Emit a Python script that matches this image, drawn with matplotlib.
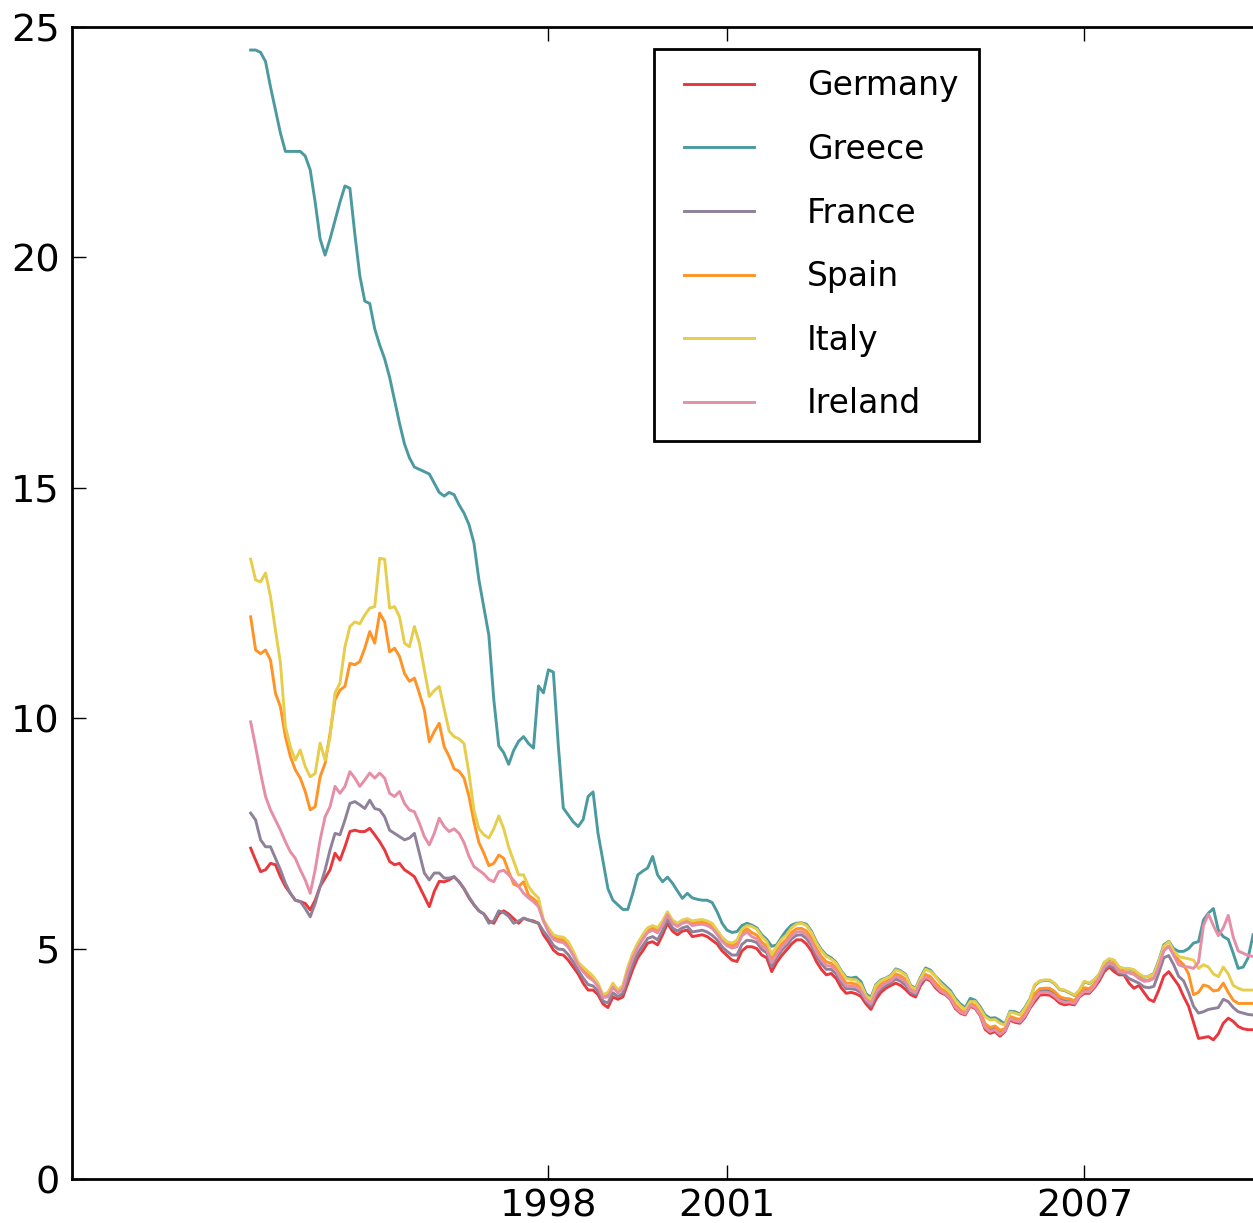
import matplotlib
matplotlib.use("Agg")
import matplotlib.pyplot as plt
import numpy as np

# monthly 10-year government bond yields (%), first month = Jan 1993
START_YEAR = 1993

germany = [
    7.18, 6.92, 6.67, 6.71, 6.85, 6.82, 6.56, 6.35, 6.20, 6.05,
    6.02, 5.98, 5.84, 6.05, 6.35, 6.53, 6.71, 7.07, 6.92, 7.21,
    7.54, 7.57, 7.54, 7.54, 7.61, 7.47, 7.32, 7.14, 6.89, 6.82,
    6.85, 6.71, 6.64, 6.56, 6.35, 6.13, 5.91, 6.24, 6.46, 6.45,
    6.49, 6.56, 6.45, 6.30, 6.10, 5.95, 5.82, 5.75, 5.60, 5.55,
    5.75, 5.82, 5.75, 5.65, 5.55, 5.66, 5.62, 5.60, 5.55, 5.30,
    5.15, 4.97, 4.88, 4.86, 4.75, 4.60, 4.45, 4.25, 4.10, 4.10,
    4.00, 3.80, 3.72, 3.95, 3.90, 3.95, 4.25, 4.55, 4.80, 4.95,
    5.12, 5.15, 5.08, 5.30, 5.55, 5.38, 5.30, 5.38, 5.40, 5.26,
    5.28, 5.30, 5.26, 5.18, 5.10, 4.95, 4.85, 4.75, 4.72, 4.95,
    5.04, 5.04, 5.00, 4.86, 4.80, 4.50, 4.70, 4.85, 4.97, 5.10,
    5.19, 5.19, 5.10, 4.95, 4.72, 4.55, 4.43, 4.46, 4.35, 4.15,
    4.03, 4.05, 4.02, 3.96, 3.80, 3.68, 3.90, 4.05, 4.14, 4.20,
    4.25, 4.20, 4.11, 4.00, 3.95, 4.20, 4.35, 4.30, 4.15, 4.05,
    4.00, 3.90, 3.70, 3.60, 3.56, 3.75, 3.70, 3.55, 3.25, 3.16,
    3.20, 3.10, 3.20, 3.45, 3.40, 3.38, 3.50, 3.70, 3.85, 3.99,
    4.00, 3.99, 3.92, 3.82, 3.78, 3.80, 3.78, 3.95, 4.03, 4.03,
    4.15, 4.30, 4.50, 4.60, 4.50, 4.43, 4.43, 4.25, 4.14, 4.20,
    4.05, 3.90, 3.85, 4.10, 4.40, 4.50, 4.35, 4.20, 3.96, 3.75,
    3.40, 3.05, 3.07, 3.09, 3.02, 3.15, 3.38, 3.49, 3.42, 3.31,
    3.26, 3.24, 3.24,
]

greece = [
    24.50, 24.50, 24.45, 24.25, 23.70, 23.20, 22.70, 22.30, 22.30, 22.30,
    22.30, 22.20, 21.90, 21.20, 20.40, 20.05, 20.40, 20.80, 21.20, 21.55,
    21.50, 20.50, 19.60, 19.05, 19.00, 18.45, 18.10, 17.80, 17.40, 16.90,
    16.40, 15.95, 15.65, 15.45, 15.40, 15.35, 15.30, 15.10, 14.90, 14.82,
    14.90, 14.85, 14.63, 14.45, 14.20, 13.80, 13.00, 12.40, 11.80, 10.40,
    9.40, 9.25, 9.00, 9.30, 9.50, 9.60, 9.45, 9.35, 10.70, 10.55,
    11.05, 11.00, 9.40, 8.05, 7.90, 7.75, 7.65, 7.80, 8.30, 8.40,
    7.50, 6.90, 6.30, 6.05, 5.95, 5.85, 5.85, 6.20, 6.60, 6.68,
    6.75, 7.00, 6.60, 6.45, 6.55, 6.42, 6.25, 6.09, 6.20, 6.10,
    6.07, 6.05, 6.05, 6.00, 5.80, 5.55, 5.40, 5.35, 5.37, 5.50,
    5.55, 5.51, 5.45, 5.30, 5.20, 5.05, 5.08, 5.25, 5.40, 5.51,
    5.55, 5.56, 5.53, 5.38, 5.15, 4.98, 4.86, 4.80, 4.70, 4.52,
    4.38, 4.36, 4.38, 4.28, 4.02, 3.94, 4.22, 4.32, 4.36, 4.42,
    4.56, 4.52, 4.44, 4.20, 4.14, 4.38, 4.58, 4.53, 4.40, 4.29,
    4.19, 4.09, 3.92, 3.80, 3.72, 3.92, 3.88, 3.74, 3.56, 3.49,
    3.50, 3.44, 3.36, 3.64, 3.63, 3.58, 3.72, 3.90, 4.20, 4.29,
    4.31, 4.31, 4.24, 4.11, 4.09, 4.04, 3.98, 4.09, 4.28, 4.24,
    4.32, 4.44, 4.69, 4.77, 4.74, 4.59, 4.56, 4.56, 4.53, 4.44,
    4.38, 4.40, 4.46, 4.74, 5.08, 5.16, 5.00, 4.94, 4.94, 5.00,
    5.12, 5.15, 5.62, 5.77, 5.87, 5.40, 5.26, 5.20, 4.90, 4.57,
    4.60, 4.80, 5.30,
]

france = [
    7.94, 7.79, 7.36, 7.21, 7.21, 6.96, 6.71, 6.42, 6.20, 6.05,
    6.02, 5.87, 5.69, 5.98, 6.35, 6.71, 7.14, 7.50, 7.47, 7.79,
    8.15, 8.19, 8.12, 8.04, 8.22, 8.04, 8.01, 7.86, 7.57, 7.50,
    7.43, 7.36, 7.40, 7.50, 7.07, 6.64, 6.49, 6.64, 6.64, 6.53,
    6.53, 6.56, 6.45, 6.30, 6.12, 5.95, 5.82, 5.75, 5.55, 5.60,
    5.82, 5.78, 5.70, 5.55, 5.60, 5.66, 5.62, 5.58, 5.55, 5.38,
    5.24, 5.07, 4.99, 4.98, 4.87, 4.71, 4.53, 4.36, 4.22, 4.19,
    4.08, 3.86, 3.82, 4.04, 3.96, 4.03, 4.36, 4.66, 4.90, 5.06,
    5.22, 5.26, 5.19, 5.39, 5.63, 5.45, 5.38, 5.45, 5.48, 5.36,
    5.38, 5.40, 5.36, 5.29, 5.19, 5.04, 4.94, 4.86, 4.86, 5.09,
    5.18, 5.17, 5.13, 4.98, 4.91, 4.61, 4.81, 4.96, 5.07, 5.21,
    5.29, 5.30, 5.22, 5.07, 4.84, 4.67, 4.55, 4.55, 4.45, 4.26,
    4.13, 4.13, 4.11, 4.04, 3.86, 3.75, 3.99, 4.13, 4.20, 4.26,
    4.34, 4.29, 4.20, 4.05, 4.00, 4.25, 4.41, 4.36, 4.23, 4.11,
    4.05, 3.95, 3.75, 3.65, 3.60, 3.78, 3.75, 3.60, 3.33, 3.25,
    3.28, 3.18, 3.24, 3.50, 3.46, 3.43, 3.56, 3.75, 3.96, 4.08,
    4.10, 4.09, 4.02, 3.91, 3.88, 3.88, 3.84, 4.00, 4.11, 4.10,
    4.20, 4.35, 4.55, 4.63, 4.58, 4.47, 4.45, 4.35, 4.30, 4.25,
    4.17, 4.15, 4.18, 4.47, 4.80, 4.85, 4.65, 4.40, 4.30, 4.05,
    3.75, 3.60, 3.63, 3.68, 3.70, 3.72, 3.90, 3.85, 3.72, 3.63,
    3.60, 3.57, 3.56,
]

spain = [
    12.20, 11.48, 11.40, 11.48, 11.26, 10.54, 10.25, 9.60, 9.17, 8.88,
    8.70, 8.41, 8.01, 8.08, 8.73, 9.02, 9.67, 10.40, 10.61, 10.69,
    11.19, 11.16, 11.23, 11.52, 11.88, 11.63, 12.28, 12.09, 11.44, 11.52,
    11.34, 10.97, 10.80, 10.87, 10.54, 10.18, 9.49, 9.71, 9.89, 9.38,
    9.17, 8.90, 8.85, 8.70, 8.30, 7.75, 7.30, 7.07, 6.80, 6.85,
    7.03, 6.96, 6.67, 6.40, 6.35, 6.45, 6.16, 6.08, 5.98, 5.60,
    5.41, 5.25, 5.20, 5.19, 5.09, 4.90, 4.66, 4.55, 4.44, 4.36,
    4.21, 3.97, 4.00, 4.21, 4.07, 4.16, 4.55, 4.85, 5.07, 5.25,
    5.40, 5.45, 5.39, 5.56, 5.76, 5.58, 5.51, 5.58, 5.61, 5.55,
    5.57, 5.58, 5.55, 5.49, 5.36, 5.21, 5.11, 5.06, 5.11, 5.35,
    5.43, 5.35, 5.29, 5.14, 5.05, 4.77, 4.95, 5.10, 5.20, 5.35,
    5.43, 5.44, 5.38, 5.23, 5.00, 4.83, 4.71, 4.68, 4.58, 4.40,
    4.25, 4.25, 4.23, 4.14, 3.94, 3.85, 4.11, 4.23, 4.29, 4.34,
    4.45, 4.41, 4.33, 4.13, 4.07, 4.31, 4.44, 4.39, 4.26, 4.14,
    4.07, 3.97, 3.78, 3.67, 3.61, 3.80, 3.77, 3.62, 3.37, 3.29,
    3.32, 3.23, 3.26, 3.53, 3.49, 3.46, 3.59, 3.78, 4.02, 4.13,
    4.14, 4.14, 4.07, 3.96, 3.92, 3.91, 3.87, 4.02, 4.15, 4.13,
    4.23, 4.38, 4.62, 4.70, 4.67, 4.52, 4.50, 4.49, 4.46, 4.37,
    4.31, 4.32, 4.37, 4.64, 4.97, 5.05, 4.90, 4.75, 4.65, 4.45,
    4.00, 4.05, 4.21, 4.18, 4.08, 4.10, 4.25, 4.05, 3.88, 3.81,
    3.81, 3.81, 3.81,
]

italy = [
    13.45, 13.00, 12.96, 13.15, 12.64, 11.91, 11.20, 9.82, 9.38, 9.09,
    9.31, 8.95, 8.73, 8.80, 9.46, 9.09, 9.60, 10.55, 10.76, 11.55,
    11.99, 12.09, 12.05, 12.24, 12.39, 12.42, 13.47, 13.45, 12.39, 12.42,
    12.20, 11.63, 11.55, 11.99, 11.63, 11.05, 10.47, 10.60, 10.69, 10.20,
    9.72, 9.60, 9.55, 9.45, 8.80, 8.00, 7.60, 7.47, 7.40, 7.60,
    7.88, 7.60, 7.20, 6.90, 6.60, 6.60, 6.35, 6.20, 6.10, 5.62,
    5.45, 5.30, 5.26, 5.25, 5.15, 4.95, 4.70, 4.60, 4.50, 4.40,
    4.25, 4.00, 4.05, 4.25, 4.10, 4.20, 4.60, 4.90, 5.12, 5.30,
    5.45, 5.50, 5.45, 5.60, 5.80, 5.62, 5.55, 5.62, 5.65, 5.60,
    5.62, 5.63, 5.60, 5.55, 5.40, 5.25, 5.15, 5.12, 5.18, 5.42,
    5.50, 5.48, 5.42, 5.26, 5.15, 4.88, 5.05, 5.20, 5.30, 5.45,
    5.53, 5.55, 5.50, 5.35, 5.12, 4.95, 4.83, 4.77, 4.68, 4.50,
    4.35, 4.33, 4.32, 4.22, 3.98, 3.90, 4.20, 4.30, 4.35, 4.40,
    4.54, 4.50, 4.42, 4.18, 4.12, 4.35, 4.55, 4.50, 4.40, 4.25,
    4.15, 4.05, 3.88, 3.76, 3.68, 3.85, 3.85, 3.70, 3.52, 3.45,
    3.46, 3.38, 3.34, 3.62, 3.60, 3.56, 3.70, 3.88, 4.22, 4.30,
    4.32, 4.32, 4.25, 4.12, 4.10, 4.05, 3.99, 4.10, 4.29, 4.25,
    4.33, 4.45, 4.70, 4.78, 4.75, 4.60, 4.57, 4.57, 4.54, 4.45,
    4.39, 4.40, 4.45, 4.72, 5.05, 5.15, 4.95, 4.83, 4.80, 4.78,
    4.75, 4.57, 4.65, 4.60, 4.45, 4.39, 4.60, 4.45, 4.20, 4.14,
    4.10, 4.10, 4.10,
]

ireland = [
    9.92, 9.38, 8.81, 8.30, 8.01, 7.79, 7.57, 7.32, 7.10, 6.96,
    6.71, 6.49, 6.20, 6.71, 7.36, 7.86, 8.08, 8.52, 8.37, 8.52,
    8.84, 8.70, 8.52, 8.66, 8.81, 8.70, 8.81, 8.70, 8.37, 8.30,
    8.41, 8.15, 8.01, 7.97, 7.72, 7.43, 7.25, 7.50, 7.83, 7.65,
    7.54, 7.60, 7.50, 7.30, 7.00, 6.78, 6.70, 6.62, 6.50, 6.45,
    6.67, 6.70, 6.60, 6.48, 6.35, 6.20, 6.10, 6.02, 5.91, 5.60,
    5.36, 5.20, 5.15, 5.13, 5.03, 4.85, 4.63, 4.50, 4.38, 4.31,
    4.18, 3.94, 3.95, 4.16, 4.04, 4.13, 4.50, 4.80, 5.02, 5.20,
    5.35, 5.40, 5.34, 5.51, 5.73, 5.55, 5.48, 5.55, 5.58, 5.50,
    5.52, 5.53, 5.50, 5.44, 5.31, 5.16, 5.06, 5.01, 5.04, 5.28,
    5.36, 5.26, 5.21, 5.06, 4.98, 4.69, 4.88, 5.03, 5.14, 5.28,
    5.36, 5.37, 5.30, 5.15, 4.92, 4.75, 4.63, 4.62, 4.52, 4.33,
    4.19, 4.19, 4.17, 4.09, 3.90, 3.80, 4.05, 4.18, 4.25, 4.30,
    4.40, 4.35, 4.27, 4.09, 4.04, 4.28, 4.38, 4.33, 4.19, 4.08,
    4.02, 3.92, 3.73, 3.62, 3.58, 3.77, 3.72, 3.57, 3.29, 3.20,
    3.24, 3.14, 3.22, 3.48, 3.43, 3.41, 3.53, 3.73, 3.91, 4.04,
    4.05, 4.04, 3.97, 3.87, 3.83, 3.84, 3.81, 3.97, 4.07, 4.06,
    4.18, 4.37, 4.60, 4.68, 4.65, 4.50, 4.48, 4.47, 4.44, 4.35,
    4.29, 4.30, 4.35, 4.62, 4.95, 5.05, 4.85, 4.65, 4.61, 4.60,
    4.57, 4.70, 5.50, 5.75, 5.50, 5.28, 5.45, 5.72, 5.25, 4.95,
    4.90, 4.85, 4.83,
]

countries = ["Germany", "Greece", "France", "Spain", "Italy", "Ireland"]
series = [germany, greece, france, spain, italy, ireland]
colors = ["#e8383d", "#4b9aa0", "#8e8199", "#ff9326", "#e6cd4c", "#e58ea6"]

x_ticks = [1998, 2001, 2007]
y_ticks = [0, 5, 10, 15, 20, 25]

plt.rcParams["font.family"] = ["DejaVu Sans"]

W, H = 1253, 1223
fig = plt.figure(figsize=(W / 100, H / 100), dpi=100)
# right spine sits just outside the picture, as in the reference
ax = fig.add_axes([72 / W, 44 / H, 1191 / W, 1152 / H])

for name, values, color in zip(countries, series, colors):
    t = START_YEAR + np.arange(len(values)) / 12
    ax.plot(t, values, color=color, lw=2.1, label=name)

ax.set_xlim(1990, 2010)
ax.set_ylim(0, 25)
ax.set_xticks(x_ticks)
ax.set_xticklabels([str(y) for y in x_ticks])
ax.set_yticks(y_ticks)
ax.tick_params(direction="in", length=10, width=1, top=True, right=False,
               labelsize=27.5, colors="black")
ax.tick_params(axis="x", pad=7)
ax.tick_params(axis="y", pad=9)
for spine in ax.spines.values():
    spine.set_linewidth(2)

legend = ax.legend(
    loc="upper left",
    bbox_to_anchor=(654 / W, 1 - 49 / H),
    bbox_transform=fig.transFigure,
    borderaxespad=0,
    numpoints=2,
    fontsize=23.7,
    handlelength=2.71,
    handletextpad=1.32,
    labelspacing=0.93,
    borderpad=0.62,
    fancybox=False,
    framealpha=1,
    edgecolor="black",
)
legend.get_frame().set_linewidth(2)

fig.savefig("out.png", dpi=100)
